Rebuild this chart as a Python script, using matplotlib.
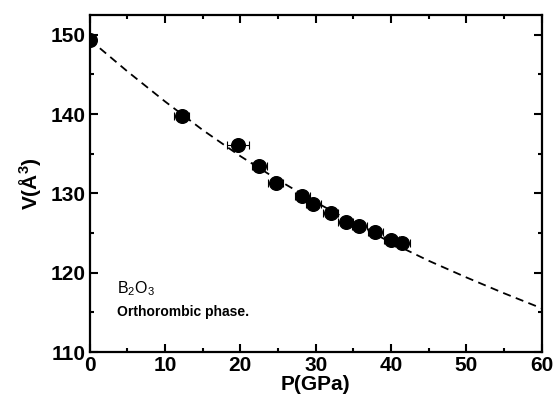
import matplotlib
matplotlib.use("Agg")
import matplotlib.pyplot as plt
from matplotlib.ticker import MultipleLocator

plt.rcParams['font.family'] = ['Liberation Sans', 'DejaVu Sans']
plt.rcParams['mathtext.fontset'] = 'custom'
plt.rcParams['mathtext.rm'] = 'Liberation Sans'
plt.rcParams['mathtext.bf'] = 'Liberation Sans:bold'

# measured points (pressure GPa, volume A^3, pressure error)
pressure = [0.0, 12.2, 19.7, 22.5, 24.7, 28.2, 29.7, 32.0, 34.0, 35.8, 37.9, 40.0, 41.5]
volume = [149.4, 139.8, 136.1, 133.5, 131.3, 129.7, 128.6, 127.5, 126.4, 125.9, 125.1, 124.1, 123.7]
p_err = [0.3, 1.0, 1.5, 1.0, 1.0, 1.0, 1.0, 1.0, 1.0, 1.0, 1.0, 1.0, 1.0]

# EOS fit curve
fit_p = [0, 5, 10, 15, 20, 25, 30, 35, 40, 45, 50, 55, 60]
fit_v = [149.4, 145.4, 141.6, 138.0, 134.7, 131.7, 128.9, 126.3, 123.8, 121.5, 119.4, 117.4, 115.5]

fig = plt.figure(figsize=(5.54, 4.04), dpi=100)
ax = fig.add_axes([0.1616, 0.1287, 0.8165, 0.8343])

ax.plot(fit_p, fit_v, ls=(0, (4.5, 3)), color='black', lw=1.3, zorder=2)
ax.errorbar(pressure, volume, xerr=p_err, fmt='o', color='black', ms=9.8,
            ecolor='black', elinewidth=0.8, capsize=3, capthick=0.8, zorder=3)

ax.set_xlim(0, 60)
ax.set_ylim(110, 152.5)
ax.xaxis.set_major_locator(MultipleLocator(10))
ax.xaxis.set_minor_locator(MultipleLocator(5))
ax.yaxis.set_major_locator(MultipleLocator(10))
ax.yaxis.set_minor_locator(MultipleLocator(5))
ax.tick_params(which='both', direction='in', top=True, right=True, width=1.5)
ax.tick_params(which='major', length=6, labelsize=15, pad=3)
ax.tick_params(which='minor', length=3)
for lab in ax.get_xticklabels() + ax.get_yticklabels():
    lab.set_fontweight('bold')
for s in ax.spines.values():
    s.set_linewidth(1.6)

ax.set_xlabel('P(GPa)', fontsize=15, fontweight='bold', labelpad=0)
ax.set_ylabel(r'V($\mathbf{\AA^3}$)', fontsize=15, fontweight='bold', labelpad=5)

ax.text(3.6, 118.0, r'B$_2$O$_3$', fontsize=11.5, va='center', ha='left')
ax.text(3.6, 115.0, 'Orthorombic phase.', fontsize=10, fontweight='bold',
        va='center', ha='left')

fig.savefig('out.png', dpi=100)
